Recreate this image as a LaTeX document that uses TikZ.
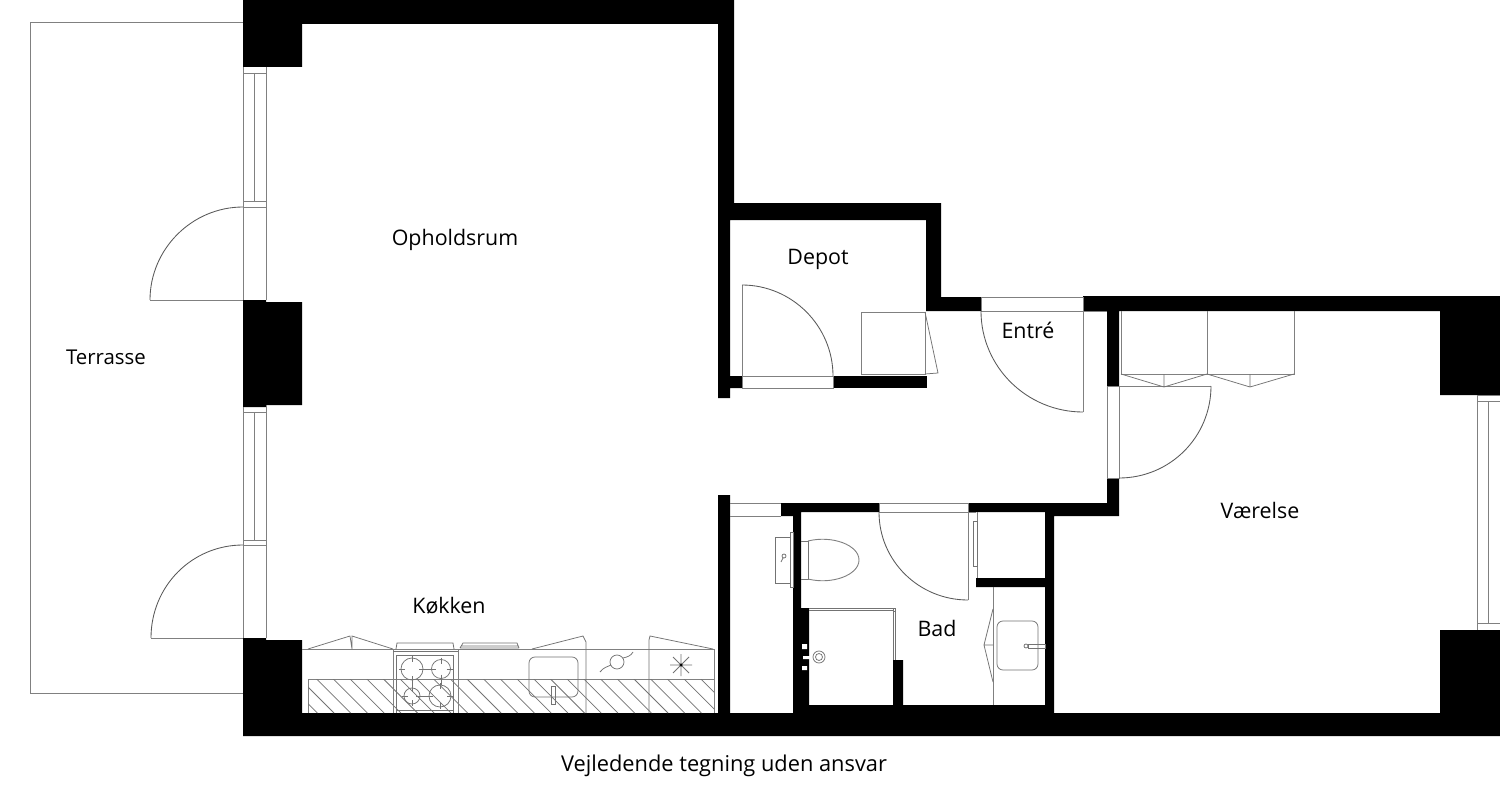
\documentclass[tikz,border=0pt]{standalone}
\usepackage{fontspec}
\setmainfont{Open Sans}
\tikzset{
 wall/.style={fill=black,draw=none},
 ln/.style={draw=black!50,line width=0.9pt},
 thin/.style={draw=black!55,line width=0.75pt},
 arcl/.style={draw=black!65,line width=0.85pt},
 lab/.style={font=\fontsize{21.4}{25}\selectfont,text=black,inner sep=0pt,anchor=center}
}
\begin{document}
\begin{tikzpicture}[x=1pt,y=-1pt]
\useasboundingbox (0,0) rectangle (1500,797);
\fill[white] (0,0) rectangle (1500,797);
% terrace
\draw[ln] (243,22) -- (30,22) -- (30,693) -- (243,693);
% walls
\fill[wall] (243,0) -- (734,0) -- (734,203) -- (941,203) -- (941,297) -- (981,297) -- (981,311) -- (926,311) -- (926,220) -- (730,220) -- (730,376) -- (742,376) -- (742,388) -- (730,388) -- (730,398) -- (718,398) -- (718,24) -- (302,24) -- (302,67) -- (243,67) -- cycle;
\fill[wall] (833,376) rectangle (927,388);
\fill[wall] (1083,296) -- (1500,296) -- (1500,395) -- (1440,395) -- (1440,311) -- (1119,311) -- (1119,386) -- (1107,386) -- (1107,311) -- (1083,311) -- cycle;
\fill[wall] (243,300) -- (266,300) -- (266,302) -- (302,302) -- (302,405) -- (266,405) -- (266,407) -- (243,407) -- cycle;
\fill[wall] (243,638) -- (266,638) -- (266,640) -- (302,640) -- (302,713) -- (718,713) -- (718,495) -- (730,495) -- (730,713) -- (793,713) -- (793,516) -- (781,516) -- (781,503) -- (879,503) -- (879,512) -- (801,512) -- (801,608) -- (809,608) -- (809,705) -- (893,705) -- (893,660) -- (903,660) -- (903,705) -- (1045,705) -- (1045,587) -- (976,587) -- (976,578) -- (1045,578) -- (1045,512) -- (968,512) -- (968,503) -- (1107,503) -- (1107,478) -- (1119,478) -- (1119,516) -- (1054,516) -- (1054,713) -- (1440,713) -- (1440,630) -- (1500,630) -- (1500,736) -- (243,736) -- cycle;
% shower fittings in wall
\fill[white] (802,644) rectangle (807,649) (802,666) rectangle (807,670) (803,656) rectangle (813,659);
% left windows and doors
\draw[ln] (243,67) -- (243,300) (266,67) -- (266,300) (243,73) -- (266,73) (243,201) -- (266,201) (243,207) -- (266,207) (254.5,73) -- (254.5,201) (243,300) -- (150,300);
\draw[arcl] (243,207) .. controls (192,207) and (150,249) .. (150,300);
\draw[ln] (243,407) -- (243,638) (266,405) -- (266,638) (243,412) -- (266,412) (243,540) -- (266,540) (243,545) -- (266,545) (254.5,412) -- (254.5,540) (243,638) -- (151,638);
\draw[arcl] (243,545) .. controls (192,545) and (151,586) .. (151,638);
% right window
\draw[ln] (1477,395) -- (1477,630) (1488,401) -- (1488,623) (1477,395) -- (1500,395) (1477,401) -- (1500,401) (1477,623) -- (1500,623);
% depot
\draw[ln] (742,376) rectangle (833,388);
\draw[ln] (742,376) -- (742,285);
\draw[arcl] (742,285) .. controls (792,285) and (833,326) .. (833,376);
\draw[ln] (861,312) rectangle (925,374);
\draw[thin] (925,312) -- (938,373) -- (925,374);
% entre
\draw[ln] (981,297) rectangle (1083,311);
\draw[ln] (1083,311) -- (1083,412) (1083,311) -- (1107,311);
\draw[arcl] (981,311) .. controls (981,367) and (1027,412) .. (1083,412);
% vaerelse door and wardrobes
\draw[ln] (1107,386) rectangle (1119,478);
\draw[ln] (1119,386) -- (1211,386);
\draw[arcl] (1211,386) .. controls (1211,437) and (1170,478) .. (1119,478);
\draw[ln] (1121,311) -- (1121,374) -- (1294,374) -- (1294,311) (1207,311) -- (1207,374);
\draw[thin] (1121,374) -- (1164,387) -- (1207,374) -- (1250,387) -- (1294,374) (1164,374) -- (1164,387) (1250,374) -- (1250,387);
% small window at left of bath
\draw[ln] (730,503) -- (781,503) (730,516) -- (781,516);
% bath door
\draw[ln] (879,503) rectangle (968,512);
\draw[ln] (968,512) -- (968,600);
\draw[arcl] (879,512) .. controls (879,561) and (919,600) .. (968,600);
\draw[ln] (968,512) -- (976,512) (977.5,512) -- (977.5,578);
\draw[thin] (973,521) rectangle (977,566);
% vanity
\draw[ln] (993,587) -- (993,705);
\draw[thin] (993,609) -- (984,645) -- (993,682) (984,645) -- (993,645);
\draw[thin,rounded corners=6pt] (997,621) rectangle (1038,670);
\draw[thin] (1028,644) rectangle (1045,648);
\draw[thin,fill=white] (1026,646) circle[radius=2];
% toilet
\draw[thin] (775,537) rectangle (790,583);
\draw[thin] (790,532) rectangle (793,587);
\draw[thin] (784,556) circle[radius=2] (783,558) -- (781,562);
\draw[thin] (801,541) -- (808,541) -- (808,579) -- (801,579);
\draw[ln] (808,541) .. controls (832,535) and (859,545) .. (859,560) .. controls (859,575) and (832,585) .. (808,579);
% shower
\draw[thin] (809,608) -- (895,608) -- (895,660) (809,610.5) -- (893,610.5) -- (893,660) (893,608) rectangle (895.5,611);
\draw[thin] (819,657) circle[radius=6] (819,657) circle[radius=3.5];
% kitchen
\draw[ln] (302,649) -- (714,649) -- (714,713);
\draw[ln] (308,713) -- (308,679) -- (714,679);
\begin{scope}
\clip (308,679) rectangle (714,713);
\foreach \x in {-2,...,26}{\draw[thin] ({293+\x*16.7},672) -- ++(41,41);}
\end{scope}
\draw[thin] (308,649) -- (350,636) -- (352,649) (352,649) -- (352,636) -- (393,649);
\draw[ln] (393,713) -- (393,649) -- (458,649) -- (458,713);
\draw[thin] (396,713) -- (396,655) -- (453,655) -- (453,713) (396,710) -- (453,710) (393,651) -- (458,651);
\draw[thin] (396,649) -- (397,643) -- (453,643) -- (454,649);
\foreach \cx/\cy/\r in {412/669/11,441/669/9.5,412/696/8,440/696/11}{
 \draw[thin] (\cx,\cy) circle[radius=\r];
 \draw[thin] ({\cx-\r-2},\cy) -- ({\cx-\r+4},\cy) ({\cx+\r-4},\cy) -- ({\cx+\r+2},\cy) (\cx,{\cy-\r-2}) -- (\cx,{\cy-\r+4}) (\cx,{\cy+\r-4}) -- (\cx,{\cy+\r+2});
}
\draw[thin] (423,669) -- (431,669) (412,680) -- (412,688) (420,696) -- (429,696) (441,678.5) -- (441,685);
\draw[thin] (460,648) -- (463,643) -- (517,643) -- (519,648) (461,646) -- (518,646) (460,648) -- (519,648);
\draw[thin] (532,649) -- (583,636) -- (586,642) -- (586,713);
\draw[thin,rounded corners=6pt] (529,657) rectangle (578,697);
\draw[thin] (551,686) rectangle (555,704);
\draw[thin] (617,662) circle[radius=7];
\draw[thin] (600,672) .. controls (604,667) and (607,667) .. (611,665) (623,658) .. controls (627,657) and (631,656) .. (633,652);
\draw[thin] (649,713) -- (649,640) -- (650,636) -- (713,649);
\draw[thin] (670,665) -- (692,665) (681,654) -- (681,676) (673,657) -- (689,673) (673,673) -- (689,657);
\fill[black] (681,665) circle[radius=1.5];
% labels
\node[lab] (ophold) at (455,240) {Opholdsrum};
\node[lab] (depot) at (818,259) {Depot};
\node[lab] (entre) at (1028,330) {Entré};
\node[lab,font=\fontsize{20.4}{25}\selectfont] (terrasse) at (106,357) {Terrasse};
\node[lab] (vaerelse) at (1260,510) {Værelse};
\node[lab] (kokken) at (449,606) {Køkken};
\node[lab] (bad) at (937,628) {Bad};
\node[lab,font=\fontsize{21.8}{25}\selectfont] (note) at (724,766) {Vejledende tegning uden ansvar};
\end{tikzpicture}
\end{document}
